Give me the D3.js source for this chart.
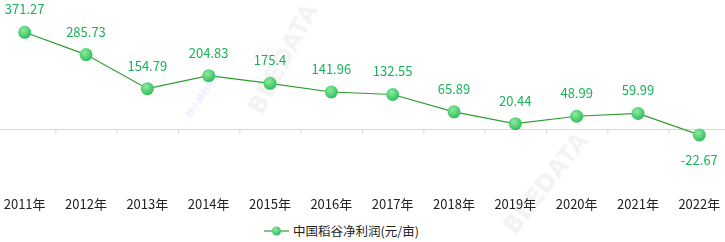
<!DOCTYPE html>
<html>
<head>
<meta charset="utf-8">
<script src="https://cdn.jsdelivr.net/npm/d3@7"></script>
<style>
  body { margin: 0; background: #fff; }
  svg { display: block; font-family: "Noto Sans CJK SC", "Noto Sans", sans-serif; }
</style>
</head>
<body>
<div id="chart"></div>
<script>
const years = ['2011年', '2012年', '2013年', '2014年', '2015年', '2016年', '2017年', '2018年', '2019年', '2020年', '2021年', '2022年'];
const profit = [371.27, 285.73, 154.79, 204.83, 175.4, 141.96, 132.55, 65.89, 20.44, 48.99, 59.99, -22.67];
const seriesName = '中国稻谷净利润(元/亩)';

const w = 725;
const h = 242;

const svg = d3.select('#chart')
    .append('svg')
    .attr('width', w)
    .attr('height', h);

// faint watermarks
const wm = svg.append('g').attr('fill', '#000').attr('opacity', 0.05)
    .attr('font-weight', 'bold').attr('font-family', 'DejaVu Sans');
wm.append('text').text('BEEDATA').attr('font-size', 24)
    .attr('transform', 'translate(262,116) rotate(-62)');
wm.append('text').text('BEEDATA').attr('font-size', 24)
    .attr('transform', 'translate(515,236) rotate(-52)');
svg.append('text').text('蜂小蜂数据云').attr('font-size', 9)
    .attr('fill', '#5a7fff').attr('opacity', 0.15)
    .attr('transform', 'translate(190,118) rotate(-55)');

const defs = svg.append('defs');
const grad = defs.append('radialGradient').attr('id', 'ball')
    .attr('cx', '40%').attr('cy', '35%').attr('r', '65%');
grad.append('stop').attr('offset', '0%').attr('stop-color', '#8eeaa0');
grad.append('stop').attr('offset', '100%').attr('stop-color', '#2fbf5b');

const xScale = d3.scaleBand()
    .domain(years)
    .range([-6, 730]);

const yScale = d3.scaleLinear()
    .domain([0, 371.27])
    .range([129, 32.3]);

const cx = (d, i) => xScale(years[i]) + xScale.bandwidth() / 2;

// x axis on zero line
const xAxis = d3.axisBottom(xScale).tickSize(0).tickPadding(0);
const gx = svg.append('g')
    .attr('transform', `translate(0, ${yScale(0)})`)
    .call(xAxis);
gx.select('.domain').attr('stroke', '#d9d9d9');
gx.selectAll('.tick text').remove();

// separator ticks between categories
svg.append('g').selectAll('line')
    .data(years.slice(1))
    .enter()
    .append('line')
    .attr('x1', d => xScale(d) + 0.5)
    .attr('x2', d => xScale(d) + 0.5)
    .attr('y1', yScale(0))
    .attr('y2', yScale(0) + 5)
    .attr('stroke', '#d9d9d9');

// category labels at bottom
svg.append('g').selectAll('text')
    .data(years)
    .enter()
    .append('text')
    .attr('x', d => xScale(d) + xScale.bandwidth() / 2)
    .attr('y', 209)
    .attr('text-anchor', 'middle')
    .attr('font-size', 13)
    .attr('fill', '#222')
    .text(d => d);

const line = d3.line()
    .x(cx)
    .y(d => yScale(d));

svg.append('path')
    .datum(profit)
    .attr('d', line)
    .attr('fill', 'none')
    .attr('stroke', '#2e9e2a')
    .attr('stroke-width', 1.2);

svg.append('g').selectAll('circle')
    .data(profit)
    .enter()
    .append('circle')
    .attr('cx', cx)
    .attr('cy', d => yScale(d))
    .attr('r', 6.5)
    .attr('fill', 'url(#ball)');

svg.append('g').selectAll('text')
    .data(profit)
    .enter()
    .append('text')
    .attr('x', cx)
    .attr('y', d => d >= 0 ? yScale(d) - 18 : yScale(d) + 30)
    .attr('text-anchor', 'middle')
    .attr('font-size', 13)
    .attr('fill', '#19b35a')
    .text(d => d);

// legend
const lg = svg.append('g').attr('transform', 'translate(264, 231)');
lg.append('line').attr('x1', 0).attr('x2', 25).attr('y1', 0).attr('y2', 0)
    .attr('stroke', '#2e9e2a').attr('stroke-width', 1.2);
lg.append('circle').attr('cx', 12.5).attr('cy', 0).attr('r', 4.5).attr('fill', 'url(#ball)');
lg.append('text').attr('x', 29).attr('y', 4.5).attr('font-size', 12.5).attr('fill', '#222')
    .text(seriesName);
</script>
</body>
</html>
